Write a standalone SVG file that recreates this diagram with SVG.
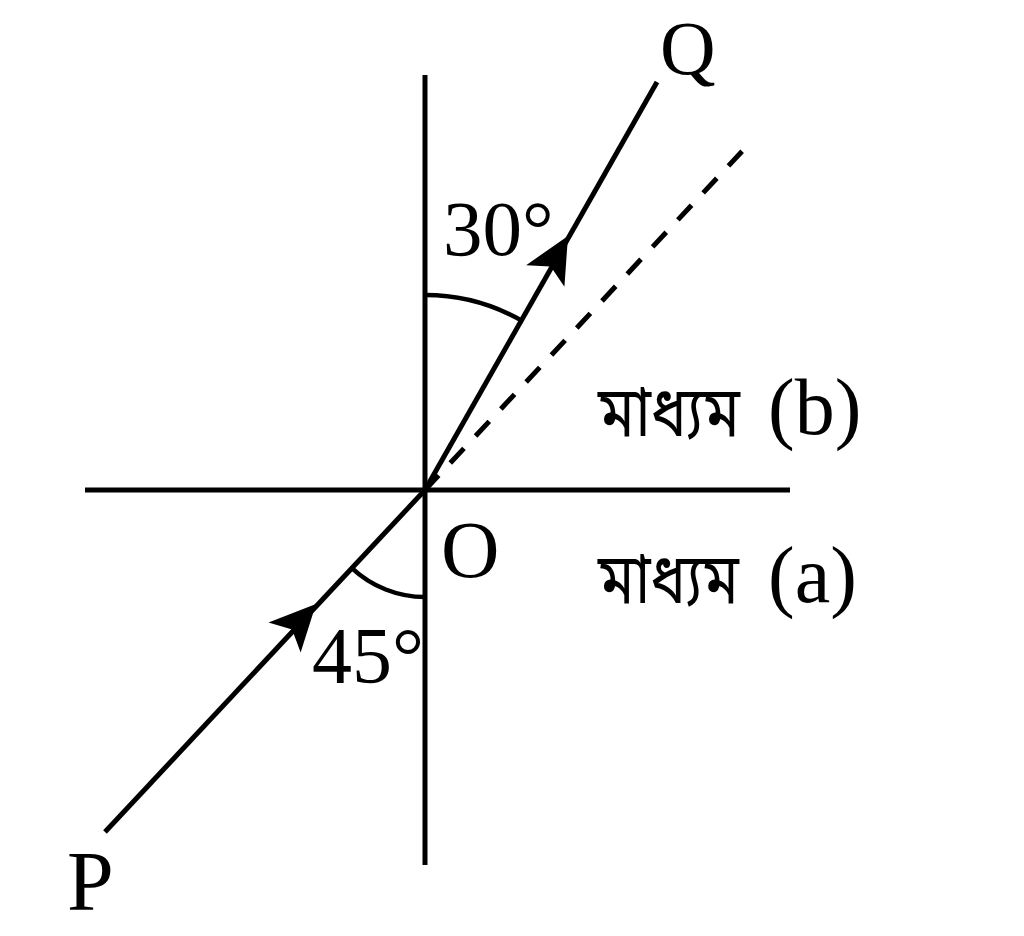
<svg xmlns="http://www.w3.org/2000/svg" xmlns:xlink="http://www.w3.org/1999/xlink" width="1024" height="936" viewBox="0 0 1024 936">
<style>
.ln{stroke:#000;stroke-width:5;fill:none}
.ray{stroke:#000;stroke-width:5;fill:none}
.dash{stroke:#000;stroke-width:5;fill:none;stroke-dasharray:20 17}
.arc{stroke:#000;stroke-width:4.5;fill:none}
.lbl{font-family:"Liberation Serif","Times New Roman",serif;fill:#000}
.bn{font-family:"Noto Sans Bengali","Noto Serif Bengali","Lohit Bengali","FreeSerif",sans-serif;font-size:70px}
</style>
<defs>
<path id="ah" d="M0,0 L-46,-22 L-35,0 L-46,22 Z" fill="#000"/>
</defs>
<rect width="1024" height="936" fill="#fff"/>
<g id="axes">
<line class="ln" x1="425" y1="75" x2="425" y2="865"/>
<line class="ln" x1="85" y1="490" x2="790" y2="490"/>
</g>
<g id="connectors">
<line class="ray" x1="105" y1="832" x2="425" y2="490"/>
<line class="ray" x1="425" y1="490" x2="657" y2="82"/>
<line class="dash" x1="425" y1="490" x2="748" y2="145"/>
<use xlink:href="#ah" transform="translate(316,604) rotate(-46.9)"/>
<use xlink:href="#ah" transform="translate(568,236) rotate(-60.4)"/>
<path class="arc" d="M425,295 A195,195 0 0 1 521.3,320.4"/>
<path class="arc" d="M351.9,568.1 A107,107 0 0 0 425,597"/>
</g>
<g id="P"><text class="lbl" x="67" y="910" font-size="84">P</text></g>
<g id="Q"><text class="lbl" x="660" y="74" font-size="77">Q</text></g>
<g id="O"><text class="lbl" x="441" y="577" font-size="81">O</text></g>
<g id="angle30"><text class="lbl" x="443" y="255" font-size="79">30°</text></g>
<g id="angle45"><text class="lbl" x="312" y="683" font-size="80">45°</text></g>
<g id="medium-b">
<text class="lbl bn" x="598" y="436" textLength="142" lengthAdjust="spacingAndGlyphs">মাধ্যম</text>
<text class="lbl" x="768" y="434" font-size="80">(b)</text>
</g>
<g id="medium-a">
<text class="lbl bn" x="598" y="603" textLength="141" lengthAdjust="spacingAndGlyphs">মাধ্যম</text>
<text class="lbl" x="768" y="602" font-size="80">(a)</text>
</g>
</svg>
